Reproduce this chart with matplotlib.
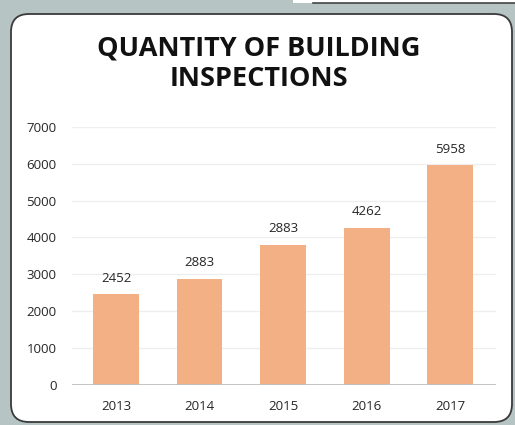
import matplotlib.pyplot as plt
from matplotlib.patches import FancyBboxPatch, Rectangle

years = ['2013', '2014', '2015', '2016', '2017']
inspections = [2452, 2883, 3800, 4262, 5958]
# labels as printed on the original chart (2015 label does not match its bar)
bar_labels = ['2452', '2883', '2883', '4262', '5958']
y_ticks = [0, 1000, 2000, 3000, 4000, 5000, 6000, 7000]

plt.rcParams['font.family'] = ['Open Sans', 'DejaVu Sans']

W, H = 515, 425
fig = plt.figure(figsize=(W / 100, H / 100), dpi=100)
fig.patch.set_facecolor('#b7c4c4')

# background layer in pixel units
bg = fig.add_axes([0, 0, 1, 1])
bg.set_xlim(0, W)
bg.set_ylim(H, 0)
bg.axis('off')
bg.add_patch(Rectangle((293, -2), 230, 4.5, facecolor='white', edgecolor='none'))
bg.plot([313, 515], [2.5, 2.5], color='#444444', lw=1.2)
bg.add_patch(FancyBboxPatch((11, 14), 501, 408,
                            boxstyle='round,pad=0,rounding_size=18',
                            facecolor='white', edgecolor='#3a3a3a', lw=1.3))

bg.text(259, 48, 'QUANTITY OF BUILDING', ha='center', va='center',
        fontsize=19.5, fontweight='bold', color='#111111')
bg.text(259, 79, 'INSPECTIONS', ha='center', va='center',
        fontsize=19.5, fontweight='bold', color='#111111')

# chart
ax = fig.add_axes([72 / W, (H - 384.6) / H, 424 / W, (384.6 - 127) / H])
ax.set_facecolor('none')
x = list(range(len(years)))
bars = ax.bar(x, inspections, width=0.55, color='#f2b084', zorder=2)
for b, lab in zip(bars, bar_labels):
    ax.annotate(lab, (b.get_x() + b.get_width() / 2, b.get_height()),
                xytext=(0, 7), textcoords='offset points',
                ha='center', va='bottom', fontsize=9.5, color='#262626')

ax.set_xlim(-0.527, 4.55)
ax.set_ylim(0, 7000)
ax.set_yticks(y_ticks)
ax.set_xticks(x)
ax.set_xticklabels(years)
ax.grid(axis='y', color='#eeeeee', lw=0.9, zorder=0)
ax.axhline(0, color='#c0c0c0', lw=1.3, zorder=3)
for s in ax.spines.values():
    s.set_visible(False)
ax.tick_params(axis='both', length=0, labelsize=9.5, colors='#262626')
ax.tick_params(axis='y', pad=11)
ax.tick_params(axis='x', pad=11)

fig.savefig('out.png', dpi=100, facecolor=fig.get_facecolor())
